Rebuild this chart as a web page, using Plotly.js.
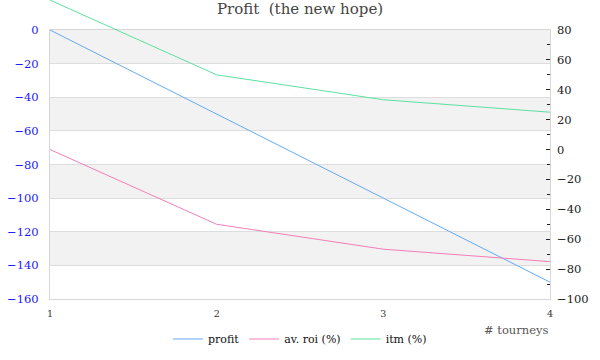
<!DOCTYPE html>
<html><head><meta charset="utf-8">
<script src="https://cdn.plot.ly/plotly-3.0.1.min.js"></script>
<style>html,body{margin:0;padding:0;background:#fff}#c{width:600px;height:360px}</style>
</head><body><div id="c"></div>
<script>
const tourneys = [1, 2, 3, 4];
const profit = [0, -50, -100, -150];
const avRoi = [0, -50, -66.67, -75];
const itm = [100, 50, 33.33, 25];
const leftTicks = [0, -20, -40, -60, -80, -100, -120, -140, -160];
const rightTicks = [80, 60, 40, 20, 0, -20, -40, -60, -80, -100];

const font = '"DejaVu Serif", "Liberation Serif", serif';
const H = 360, T = 30, B = 61;
const plotH = H - B;
const mainTop = (H - B - T) / plotH;
const r2 = [-100, 80];
const r3top = r2[0] + (r2[1] - r2[0]) / mainTop;

const shapes = [];
for (let i = 0; i < leftTicks.length - 1; i += 2) {
  shapes.push({type: 'rect', xref: 'paper', yref: 'y', x0: 0, x1: 1,
    y0: leftTicks[i], y1: leftTicks[i + 1], fillcolor: '#f2f2f2', line: {width: 0}, layer: 'below'});
}
const traces = [
  {x: tourneys, y: profit, name: 'profit', mode: 'lines', line: {color: '#64a9f4', width: 1}, xaxis: 'x', yaxis: 'y'},
  {x: tourneys, y: avRoi, name: 'av. roi (%)', mode: 'lines', line: {color: '#f27fb6', width: 1}, xaxis: 'x', yaxis: 'y2'},
  {x: tourneys, y: itm, name: 'itm (%)', mode: 'lines', line: {color: '#5de0a2', width: 1}, xaxis: 'x', yaxis: 'y3'}
];
const layout = {
  width: 600, height: H,
  margin: {l: 50, r: 50, t: 0, b: B, autoexpand: false},
  paper_bgcolor: '#fff', plot_bgcolor: 'rgba(0,0,0,0)',
  font: {family: font, size: 12, color: '#222'},
  title: {text: 'Profit  (the new hope)', x: 0.5, xanchor: 'center', y: 0.99, yanchor: 'top', font: {family: font, size: 15, color: '#444'}},
  showlegend: true,
  legend: {orientation: 'h', x: 0.5, xanchor: 'center', y: -(339 - plotH) / plotH, yanchor: 'middle', itemwidth: 30,
    font: {family: font, size: 11, color: '#111'}},
  xaxis: {range: [1, 4], tickvals: tourneys, ticktext: tourneys.map(String), showgrid: false, zeroline: false, anchor: 'y',
    showline: true, linecolor: '#d8d8d8', mirror: true, ticks: '', ticklabelstandoff: 6, tickfont: {size: 9.5, color: '#333', family: font}},
  yaxis: {domain: [0, mainTop], range: [-160, 0], tickvals: leftTicks, showgrid: true, gridcolor: '#dddddd', zeroline: false,
    showline: true, linecolor: '#d8d8d8', mirror: true, ticks: '', ticklabelstandoff: 8,
    tickfont: {size: 11.5, color: '#1a1aff', family: font}},
  yaxis2: {overlaying: 'y', side: 'right', range: r2, tickvals: rightTicks, showgrid: false, zeroline: false,
    ticks: 'inside', ticklen: 4, tickcolor: '#222', ticklabelstandoff: 6, tickfont: {size: 11.5, color: '#222', family: font},
    minor: {dtick: 10, ticks: 'inside', ticklen: 3, tickcolor: '#222', showgrid: false}},
  yaxis3: {domain: [0, 1], anchor: 'x', range: [r2[0], r3top], visible: false, showgrid: false, zeroline: false},
  shapes: shapes,
  annotations: [{text: '# tourneys', xref: 'paper', yref: 'y', x: 1, y: -160, xanchor: 'right', yanchor: 'top',
    yshift: -22, showarrow: false, font: {family: font, size: 11.5, color: '#555'}}]
};
Plotly.newPlot('c', traces, layout, {displayModeBar: false, staticPlot: true});
</script></body></html>
